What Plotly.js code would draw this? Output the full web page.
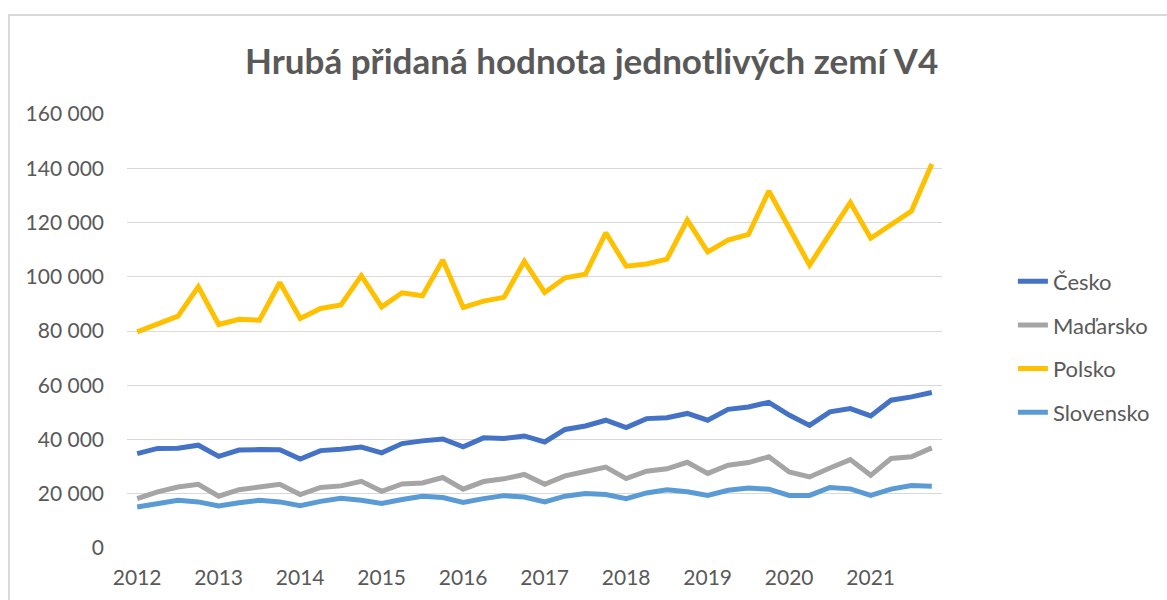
<!DOCTYPE html>
<html>
<head>
<meta charset="utf-8">
<script src="https://cdn.plot.ly/plotly-3.0.1.min.js"></script>
<style>
html,body{margin:0;padding:0;background:#fff;}
#wrap{position:relative;width:1167px;height:600px;overflow:hidden;}
#chart{position:absolute;left:0;top:0;width:1167px;height:600px;}
#frame{position:absolute;left:8px;top:14px;width:1200px;height:700px;border-left:2px solid #d9d9d9;border-top:2px solid #d9d9d9;pointer-events:none;}
</style>
</head>
<body>
<div id="wrap"><div id="chart"></div><div id="frame"></div></div>
<script>
const years = ["2012","2013","2014","2015","2016","2017","2018","2019","2020","2021"];
const quarters = ["Q1","Q2","Q3","Q4"];
const cesko = [34800,36700,36800,37900,33800,36100,36300,36200,32800,35900,36400,37200,35100,38500,39500,40200,37300,40600,40400,41300,
  39100,43700,45000,47100,44400,47700,48000,49600,47100,51100,52000,53700,49000,45200,50200,51400,48700,54500,55700,57300];
const madarsko = [18200,20700,22500,23500,19100,21500,22500,23500,19700,22300,22900,24600,20900,23600,24000,26000,21700,24500,25500,27100,
  23500,26600,28200,29800,25600,28300,29200,31600,27500,30500,31500,33600,28000,26200,29500,32600,26800,33000,33600,36900];
const polsko = [79700,82700,85500,96300,82400,84300,84000,97900,84600,88300,89600,100400,88900,94100,93000,106200,88700,91000,92400,105700,
  94200,99600,100900,116200,103900,104700,106500,120900,109200,113500,115600,131600,118200,104300,115900,127400,114200,119100,124200,141600];
const slovensko = [15100,16400,17600,17000,15500,16700,17600,17000,15600,17200,18300,17600,16400,17900,19100,18600,16800,18200,19300,18800,
  17000,19100,20100,19700,18200,20300,21500,20700,19400,21300,22100,21700,19400,19400,22300,21800,19400,21700,23000,22800];
const seriesNames = ["Česko","Maďarsko","Polsko","Slovensko"];
const seriesColors = ["#4472C4","#A5A5A5","#FFC000","#5B9BD5"];
const yTicks = [0,20000,40000,60000,80000,100000,120000,140000,160000];

const periods = [];
years.forEach(y => quarters.forEach(q => periods.push(y + " " + q)));
const xIdx = periods.map((_, i) => i);
const tickIdx = years.map((_, i) => i * 4);

const data = [cesko, madarsko, polsko, slovensko].map((vals, k) => ({
  type: "scatter",
  mode: "lines",
  name: seriesNames[k],
  legendgroup: "g" + k,
  x: xIdx,
  y: vals,
  text: periods,
  line: {color: seriesColors[k], width: 5, shape: "linear"},
  hoverinfo: "name+text+y"
}));

const layout = {
  width: 1167, height: 600,
  margin: {l: 127, r: 225, t: 114, b: 52},
  paper_bgcolor: "#ffffff",
  plot_bgcolor: "#ffffff",
  separators: ", ",
  font: {family: "Lato, 'Open Sans', sans-serif", color: "#595959", size: 21},
  title: {
    text: "<b>Hrubá přidaná hodnota jednotlivých zemí V4</b>",
    font: {family: "Lato, 'Open Sans', sans-serif", size: 35, color: "#595959"},
    x: 0.507, xanchor: "center", xref: "container",
    y: 0.897, yanchor: "middle", yref: "container"
  },
  xaxis: {
    range: [-0.5, 39.5],
    tickmode: "array",
    tickvals: tickIdx,
    ticktext: years,
    showgrid: false,
    zeroline: false,
    showline: false,
    ticks: "",
    ticklabelstandoff: 15,
    tickfont: {size: 21, color: "#595959"}
  },
  yaxis: {
    range: [0, 160000],
    tickmode: "array",
    tickvals: yTicks,
    tickformat: ",d",
    showgrid: true,
    gridcolor: "#d9d9d9",
    gridwidth: 1,
    zeroline: false,
    showline: false,
    ticks: "",
    ticklabelstandoff: 22,
    tickfont: {size: 21, color: "#595959"}
  },
  showlegend: true,
  legend: {
    x: 1.087, xref: "paper", xanchor: "left",
    y: 0.463, yanchor: "middle",
    font: {size: 22, color: "#595959"},
    traceorder: "grouped",
    tracegroupgap: 12,
    bgcolor: "rgba(0,0,0,0)",
    borderwidth: 0
  }
};

Plotly.newPlot("chart", data, layout, {displayModeBar: false, staticPlot: true});
</script>
</body>
</html>
